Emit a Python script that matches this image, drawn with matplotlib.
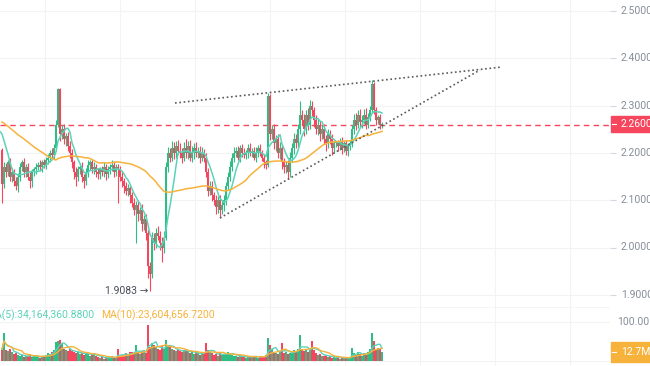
import numpy as np
import pandas as pd
import matplotlib
matplotlib.use("Agg")
import matplotlib.pyplot as plt
from matplotlib.patches import Rectangle
from matplotlib.lines import Line2D

plt.rcParams['font.family'] = ['Roboto', 'DejaVu Sans']

# ---- data -------------------------------------------------------------
# closes before the visible window (only used to seed the moving averages)
pre_close = [2.31, 2.33, 2.32, 2.34, 2.33, 2.31, 2.32, 2.33, 2.32, 2.31, 2.33, 2.34,
             2.32, 2.31, 2.32, 2.33, 2.32, 2.31, 2.32, 2.31, 2.32, 2.33, 2.32, 2.31,
             2.315, 2.32, 2.31,
             2.19, 2.18, 2.17, 2.19, 2.2, 2.18, 2.17, 2.18, 2.19, 2.18, 2.17, 2.19,
             2.18, 2.2, 2.19, 2.17,
             2.27, 2.26, 2.28, 2.27, 2.26, 2.206]

close = [
    2.135, 2.17, 2.16, 2.18, 2.15, 2.16, 2.14, 2.13, 2.15,
    2.17, 2.18, 2.16, 2.17, 2.15, 2.14, 2.16,
    2.165, 2.17, 2.175, 2.17, 2.18, 2.175, 2.185,
    2.19, 2.2, 2.195, 2.21,
    2.26, 2.335, 2.24,
    2.25, 2.23, 2.235, 2.215,
    2.2, 2.18, 2.16, 2.15, 2.165,
    2.17, 2.15, 2.14, 2.16, 2.175, 2.18, 2.165, 2.17, 2.16, 2.155,
    2.165, 2.16, 2.17, 2.155, 2.165, 2.17, 2.175, 2.16, 2.17, 2.165,
    2.15, 2.14, 2.13, 2.12, 2.125, 2.11, 2.095, 2.08,
    2.09, 2.07, 2.08, 2.05, 2.06, 2.03,
    1.96, 1.945, 2.02,
    2.01, 2.03, 2.025, 2.01, 2.0, 2.02,
    2.17, 2.2,
    2.19, 2.21, 2.2, 2.215, 2.205,
    2.2, 2.19, 2.21, 2.2, 2.215, 2.19, 2.2, 2.21, 2.2, 2.205, 2.19, 2.2, 2.19,
    2.16, 2.12, 2.13,
    2.11, 2.1, 2.085, 2.1, 2.08, 2.09, 2.1,
    2.13, 2.15, 2.17, 2.19, 2.2,
    2.205, 2.19, 2.21, 2.2, 2.195, 2.2, 2.21, 2.2, 2.205, 2.19, 2.2, 2.21, 2.2, 2.19, 2.18,
    2.175, 2.32, 2.24,
    2.25, 2.22, 2.23, 2.2, 2.21, 2.18, 2.17,
    2.175, 2.16, 2.19,
    2.21, 2.23, 2.22, 2.25, 2.28,
    2.27, 2.25, 2.28, 2.26, 2.3, 2.29, 2.27,
    2.25, 2.26, 2.24, 2.25, 2.23, 2.22, 2.24, 2.23, 2.21, 2.22,
    2.22, 2.215, 2.225, 2.21, 2.22, 2.205, 2.215, 2.22,
    2.25, 2.27, 2.26, 2.28, 2.265, 2.27, 2.28, 2.26, 2.275,
    2.29, 2.345, 2.29, 2.27, 2.275, 2.26, 2.26,
]

wick_up = [
    0.005, 0.01, 0.008, 0.006, 0.01, 0.008, 0.006, 0.01, 0.008,
    0.008, 0.006, 0.01, 0.006, 0.008, 0.01, 0.006,
    0.006, 0.008, 0.005, 0.01, 0.006, 0.008, 0.006,
    0.008, 0.006, 0.01, 0.008,
    0.01, 0.003, 0.002,
    0.01, 0.012, 0.008, 0.01,
    0.01, 0.008, 0.006, 0.01, 0.008,
    0.008, 0.01, 0.006, 0.008, 0.01, 0.006, 0.008, 0.01, 0.006, 0.008,
    0.006, 0.008, 0.01, 0.006, 0.008, 0.006, 0.01, 0.008, 0.006, 0.006,
    0.008, 0.01, 0.006, 0.008, 0.01, 0.006, 0.008, 0.01,
    0.008, 0.01, 0.006, 0.012, 0.008, 0.01,
    0.008, 0.01, 0.012,
    0.01, 0.012, 0.015, 0.01, 0.012, 0.015,
    0.01, 0.012,
    0.01, 0.015, 0.012, 0.01, 0.012,
    0.015, 0.01, 0.012, 0.02, 0.01, 0.012, 0.015, 0.01, 0.012, 0.008, 0.01, 0.012, 0.008,
    0.01, 0.008, 0.01,
    0.01, 0.008, 0.012, 0.008, 0.01, 0.008, 0.01,
    0.008, 0.01, 0.012, 0.01, 0.012,
    0.008, 0.01, 0.006, 0.008, 0.01, 0.006, 0.008, 0.01, 0.006, 0.008, 0.012, 0.006, 0.008, 0.006, 0.008,
    0.006, 0.007, 0.004,
    0.01, 0.012, 0.008, 0.01, 0.012, 0.008, 0.01,
    0.008, 0.01, 0.012,
    0.01, 0.012, 0.01, 0.012, 0.03,
    0.01, 0.012, 0.01, 0.015, 0.012, 0.01, 0.008,
    0.01, 0.012, 0.008, 0.01, 0.012, 0.008, 0.01, 0.008, 0.01, 0.008,
    0.006, 0.008, 0.006, 0.008, 0.006, 0.008, 0.006, 0.008,
    0.01, 0.012, 0.015, 0.01, 0.012, 0.01, 0.012, 0.015, 0.01,
    0.01, 0.009, 0.005, 0.008, 0.006, 0.008, 0.005,
]

wick_dn = [
    0.04, 0.01, 0.012, 0.008, 0.01, 0.012, 0.01, 0.008, 0.012,
    0.01, 0.008, 0.012, 0.01, 0.008, 0.015, 0.012,
    0.008, 0.01, 0.006, 0.008, 0.01, 0.006, 0.008,
    0.008, 0.01, 0.006, 0.008,
    0.005, 0.005, 0.015,
    0.01, 0.012, 0.015, 0.01,
    0.01, 0.012, 0.015, 0.02, 0.01,
    0.01, 0.012, 0.015, 0.008, 0.01, 0.012, 0.008, 0.01, 0.012, 0.01,
    0.01, 0.008, 0.01, 0.012, 0.008, 0.01, 0.008, 0.01, 0.008, 0.07,
    0.01, 0.012, 0.015, 0.01, 0.012, 0.015, 0.01, 0.012,
    0.07, 0.015, 0.012, 0.015, 0.012, 0.015,
    0.025, 0.037, 0.01,
    0.015, 0.012, 0.01, 0.015, 0.03, 0.012,
    0.005, 0.01,
    0.01, 0.008, 0.012, 0.01, 0.008,
    0.01, 0.012, 0.008, 0.01, 0.012, 0.008, 0.01, 0.012, 0.008, 0.01, 0.012, 0.008, 0.01,
    0.01, 0.012, 0.01,
    0.012, 0.01, 0.015, 0.012, 0.018, 0.01, 0.012,
    0.01, 0.008, 0.01, 0.008, 0.01,
    0.008, 0.006, 0.01, 0.008, 0.006, 0.008, 0.01, 0.006, 0.008, 0.006, 0.01, 0.008, 0.006, 0.008, 0.012,
    0.01, 0.005, 0.012,
    0.01, 0.012, 0.015, 0.01, 0.012, 0.015, 0.012,
    0.012, 0.015, 0.01,
    0.01, 0.012, 0.01, 0.008, 0.01,
    0.012, 0.015, 0.01, 0.012, 0.01, 0.012, 0.015,
    0.01, 0.012, 0.015, 0.01, 0.012, 0.015, 0.01, 0.012, 0.015, 0.01,
    0.008, 0.01, 0.008, 0.012, 0.008, 0.01, 0.012, 0.008,
    0.008, 0.01, 0.012, 0.008, 0.01, 0.012, 0.008, 0.01, 0.008,
    0.008, 0.006, 0.008, 0.01, 0.008, 0.01, 0.008,
]

volume_m = [
    30, 72, 28, 25, 30, 22, 18, 20, 15,
    12, 15, 10, 14, 12, 18, 10,
    12, 14, 10, 8, 12, 14, 16,
    20, 18, 24, 28,
    48, 52, 55,
    45, 30, 28, 25,
    30, 25, 22, 20, 24,
    18, 20, 15, 22, 18, 14, 16, 20, 12, 10,
    8, 10, 6, 8, 10, 9, 12, 8, 10, 30,
    14, 16, 12, 20, 18, 22, 24, 20,
    40, 22, 18, 25, 28, 20,
    92, 35, 45,
    40, 35, 30, 28, 38, 32,
    54, 40,
    35, 30, 28, 25, 30,
    26, 22, 28, 30, 25, 20, 22, 18, 24, 20, 16, 18, 20,
    45, 28, 22,
    20, 16, 18, 14, 20, 16, 18,
    20, 22, 18, 16, 14,
    12, 10, 14, 12, 10, 8, 12, 10, 14, 12, 10, 8, 12, 14, 10,
    16, 58, 40,
    30, 22, 20, 18, 26, 45, 20,
    22, 18, 20,
    24, 28, 26, 30, 67,
    30, 26, 28, 24, 32, 50, 28,
    20, 16, 18, 14, 12, 15, 10, 12, 8, 10,
    8, 10, 6, 9, 8, 7, 10, 8,
    34, 20, 15, 22, 18, 14, 20, 16, 24,
    30, 72, 50, 28, 34, 30, 22,
]

price_ticks = [1.9, 2.0, 2.1, 2.2, 2.3, 2.4, 2.5]
last_price = 2.26
low_value = 1.9083
ma_fast, ma_slow = 7, 50
ma_texts = ["MA(5):34,164,360.8800", "MA(10):23,604,656.7200"]
vol_tick = 100
vol_tick_label = "100.00M"
vol_last_label = "12.7M"
upper_trend_x = [86.5, 250]
upper_trend_y = [2.3055, 2.3816]
lower_trend_x = [109, 239]
lower_trend_y = [2.0624, 2.3753]
time_grid = [21.5, 59, 96.5, 134, 171.5, 209, 246.5, 284]

# ---- styles -----------------------------------------------------------
GREEN = '#2ebd85'
RED = '#f6465d'
TEAL = '#5cd3b9'
ORANGE = '#f7b23b'
GRID = '#f2f3f5'
LABEL = '#868d99'

W, H = 650, 366
fig = plt.figure(figsize=(6.5, 3.66), dpi=100)
fig.patch.set_facecolor('white')


def fx(px):
    return px / W


def fy(py):
    return 1 - py / H


split = 307
ax = fig.add_axes([0, fy(split), fx(610), 1 - fy(split)])
axv = fig.add_axes([0, 0, fx(610), fy(split)])

n = min(len(close), len(wick_up), len(wick_dn), len(volume_m))
c = np.array(close[:n], dtype=float)
o = np.concatenate([[pre_close[-1]], c[:-1]])
hi = np.maximum(o, c) + np.array(wick_up[:n])
lo = np.minimum(o, c) - np.array(wick_dn[:n])
x = np.arange(n)
n_pre = len(pre_close)
all_close = pd.Series(pre_close + list(c))
x_all = np.arange(-n_pre, n)
ma_f = all_close.rolling(ma_fast).mean().values
ma_s = all_close.rolling(ma_slow).mean().values

up = c >= o
cols = np.where(up, GREEN, RED)

for a in (ax, axv):
    a.set_xlim(-1, 304)
    for s in a.spines.values():
        s.set_visible(False)
    a.set_xticks(time_grid)
    a.tick_params(axis='x', length=0, labelbottom=False)
    a.grid(True, color=GRID, lw=0.8)
    a.set_axisbelow(True)

# price pane
ax.set_ylim(2.5 - (split - 11) / 473, 2.5 + 11 / 473)
ax.vlines(x, lo, hi, colors=cols, lw=0.8, zorder=2)
ax.bar(x, np.maximum(np.abs(c - o), 0.002), bottom=np.minimum(o, c), width=0.7,
       color=cols, lw=0, zorder=3)
ax.plot(x_all, ma_f, color=TEAL, lw=1.1, zorder=4)
ax.plot(x_all, ma_s, color=ORANGE, lw=1.1, zorder=4)
ax.axhline(last_price, color=RED, lw=1.0, ls=(0, (4, 3)), zorder=1)
ax.plot(upper_trend_x, upper_trend_y, color='#5a5a5a', lw=1.2, ls=(0, (1, 1.6)), zorder=5)
ax.plot(lower_trend_x, lower_trend_y, color='#5a5a5a', lw=1.2, ls=(0, (1, 1.6)), zorder=5)
low_idx = int(np.argmin(lo))
ax.text(low_idx - 0.6, low_value, f"{low_value:.4f} \u2192", ha='right', va='center',
        fontsize=7.5, color='#474d57')

ax.yaxis.tick_right()
ax.set_yticks(price_ticks)
ax.tick_params(axis='y', length=4, width=0.8, color='#d5d8dc', labelright=False)
for t in price_ticks:
    py = fig.transFigure.inverted().transform(ax.transData.transform((0, t)))[1]
    fig.text(fx(621), py, f"{t:.4f}", ha='left', va='center', fontsize=7.5, color=LABEL)

# volume pane
vol = np.array(volume_m[:n], dtype=float)
vs = pd.Series(vol)
axv.set_ylim(-(366 - 361) * 2.564, (361 - split) * 2.564)
axv.bar(x, vol, width=0.7, color=cols, lw=0, zorder=3)
axv.plot(x, vs.rolling(5, min_periods=1).mean(), color=TEAL, lw=1.0, zorder=4)
axv.plot(x, vs.rolling(10, min_periods=1).mean(), color=ORANGE, lw=1.0, zorder=4)
axv.yaxis.tick_right()
axv.set_yticks([0, vol_tick])
axv.tick_params(axis='y', length=0, labelright=False)
axv.axhline(axv.get_ylim()[1], color=GRID, lw=1.2)
vpy = fig.transFigure.inverted().transform(axv.transData.transform((0, vol_tick)))[1]
fig.text(fx(617), vpy, vol_tick_label, ha='left', va='center', fontsize=7.5, color=LABEL)

fig.text(fx(94), fy(315), ma_texts[0], ha='right', va='center', fontsize=7.5, color=TEAL)
fig.text(fx(101), fy(315), ma_texts[1], ha='left', va='center', fontsize=7.5, color=ORANGE)

# last price box
fig.patches.append(Rectangle((fx(611), fy(132)), fx(60), 16 / H, transform=fig.transFigure,
                             color=RED, zorder=5))
fig.lines.append(Line2D([fx(612), fx(616)], [fy(124), fy(124)], transform=fig.transFigure,
                        color='white', lw=0.8, zorder=6))
fig.text(fx(621), fy(124), f"{last_price:.4f}", ha='left', va='center', fontsize=7.5,
         color='white', zorder=7)

# last volume box
fig.patches.append(Rectangle((fx(611), fy(362)), fx(60), 20 / H, transform=fig.transFigure,
                             color=ORANGE, zorder=5))
fig.lines.append(Line2D([fx(612), fx(616)], [fy(352), fy(352)], transform=fig.transFigure,
                        color='white', lw=0.8, zorder=6))
fig.text(fx(621), fy(352), vol_last_label, ha='left', va='center', fontsize=7.5,
         color='white', zorder=7)

fig.savefig('out.png', dpi=100, facecolor='white')
